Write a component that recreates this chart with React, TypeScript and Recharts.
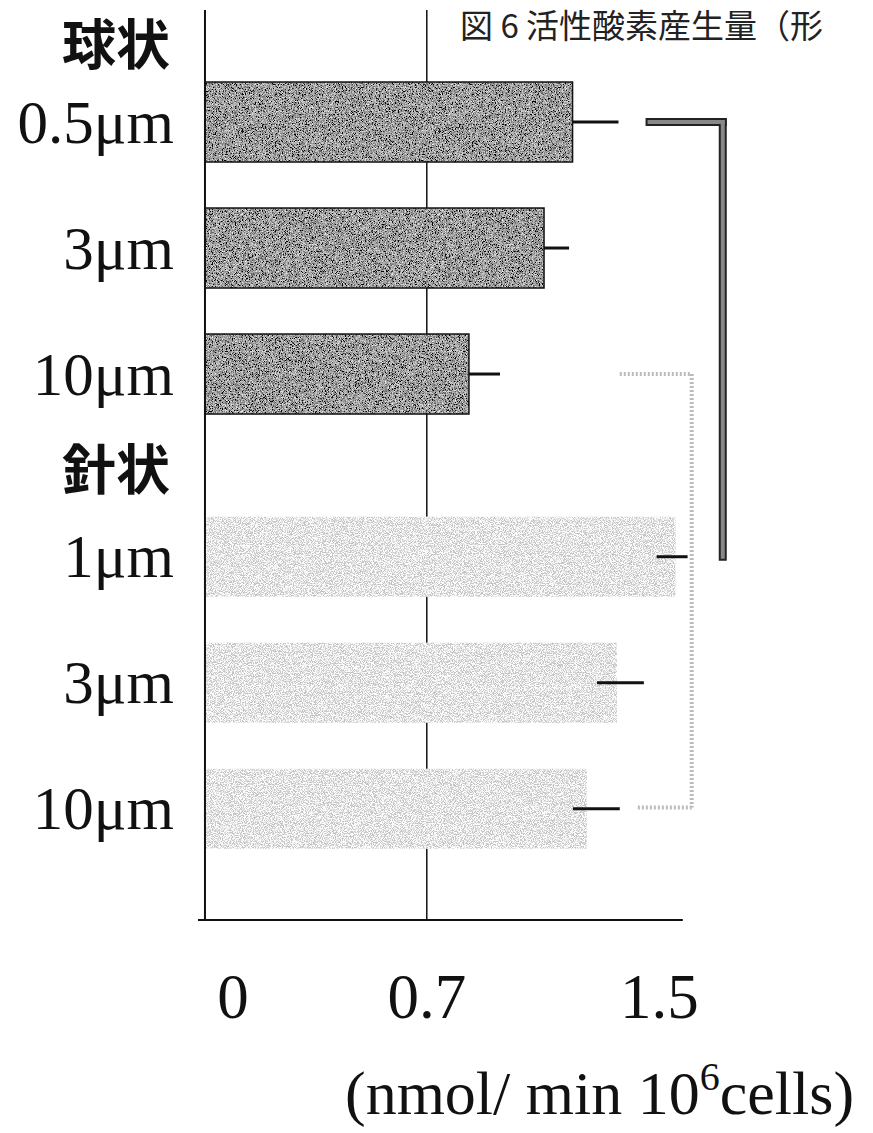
import React from "react";
import {
  BarChart,
  Bar,
  XAxis,
  YAxis,
  ErrorBar,
  ReferenceLine,
  CartesianGrid,
} from "recharts";

// bar rows (sphere group, then needle group)
const barLabels = ["0.5μm", "3μm", "10μm", "1μm", "3μm", "10μm"];
const barShapes = ["sphere", "sphere", "sphere", "needle", "needle", "needle"];
const barRows = [0, 1, 2, 3.45, 4.45, 5.45];
const meanValues = [1.16, 1.07, 0.833, 1.485, 1.3, 1.205];
// lower whiskers of the dark bars are hidden inside the bars
const errLow = [0, 0, 0, 0.06, 0.063, 0.044];
const errHigh = [0.145, 0.079, 0.098, 0.038, 0.085, 0.104];

// group headings on the category axis
const groupLabels = ["球状", "針状"];
const groupRows = [-0.61, 2.77];

const xTicks = [0, 0.7, 1.5];
const refValue = 0.7;
const xDomain = [-0.022, 1.66];
const yDomain = [-0.889, 6.333];

const SERIF = "'Liberation Serif', 'Times New Roman', serif";
const CJK = "'Noto Sans CJK JP', 'Noto Sans CJK SC', sans-serif";

const data = barLabels.map((label, i) => ({
  label,
  shape: barShapes[i],
  row: barRows[i],
  value: meanValues[i],
  err: [errLow[i], errHigh[i]],
}));

const rowTicks = [...groupRows, ...barRows].sort((a, b) => a - b);

function rowLabel(v: number) {
  const g = groupRows.indexOf(v);
  if (g >= 0) return { text: groupLabels[g], heading: true };
  const b = barRows.indexOf(v);
  return { text: b >= 0 ? barLabels[b] : "", heading: false };
}

function RowTick(props: any) {
  const { x, y, payload } = props;
  const { text, heading } = rowLabel(payload.value);
  return (
    <text
      x={heading ? x - 4 : x}
      y={y}
      dy={heading ? "0.36em" : "0.34em"}
      textAnchor="end"
      fontFamily={heading ? CJK : SERIF}
      fontWeight={heading ? 700 : 400}
      fontSize={heading ? 54 : 61}
      fill="#111"
    >
      {text}
    </text>
  );
}

function ValueTick(props: any) {
  const { x, y, payload, index } = props;
  // outer labels sit slightly inward, as in the original
  const nudge = index === 0 ? 28 : index === xTicks.length - 1 ? -21 : 0;
  return (
    <text
      x={x + nudge}
      y={y + 98}
      textAnchor="middle"
      fontFamily={SERIF}
      fontSize={63}
      fill="#111"
    >
      {payload.value}
    </text>
  );
}

function GrainBar(props: any) {
  const { x, y, width, height, payload } = props;
  if (payload.shape === "sphere") {
    return (
      <g>
        <rect x={x} y={y} width={width} height={height} fill="#555" filter="url(#grainDark)" />
        <rect x={x} y={y} width={width} height={height} fill="none" stroke="#111" strokeWidth={1.5} />
      </g>
    );
  }
  return (
    <g>
      <rect x={x} y={y} width={width} height={height} fill="#fff" />
      <rect x={x} y={y} width={width} height={height} fill="#fff" filter="url(#grainLight)" />
    </g>
  );
}

// x position of the 0.7 guide, from the plot offset and the axis domain
function refLineX(props: any) {
  const off = props && props.offset;
  if (!off) return [];
  const t = (refValue - xDomain[0]) / (xDomain[1] - xDomain[0]);
  return [off.left + t * off.width];
}

export default function App() {
  const yBottom = yDomain[1];
  return (
    <div style={{ position: "relative", width: 865, height: 1133, marginTop: -8 }}>
      <svg width={0} height={0} style={{ position: "absolute" }}>
        <defs>
          <filter id="grainDark">
            <feTurbulence type="fractalNoise" baseFrequency="1.3" numOctaves="1" seed="4" result="n" />
            <feColorMatrix
              in="n"
              type="matrix"
              values="2 0 0 0 -0.66  2 0 0 0 -0.66  2 0 0 0 -0.66  0 0 0 0 1"
              result="g"
            />
            <feComposite in="g" in2="SourceGraphic" operator="in" />
          </filter>
          <filter id="grainLight">
            <feTurbulence type="fractalNoise" baseFrequency="1.1" numOctaves="1" seed="7" result="n" />
            <feColorMatrix
              in="n"
              type="matrix"
              values="0 0 0 0 0.55  0 0 0 0 0.55  0 0 0 0 0.55  6 0 0 0 -2.6"
              result="g"
            />
            <feComposite in="g" in2="SourceGraphic" operator="in" />
          </filter>
        </defs>
      </svg>

      <BarChart
        width={865}
        height={1133}
        data={data}
        layout="vertical"
        margin={{ top: 10, right: 142, bottom: 0, left: 0 }}
      >
        {/* the 0.7 line sits behind the bars */}
        <CartesianGrid
          horizontal={false}
          stroke="#111"
          strokeWidth={1.5}
          verticalCoordinatesGenerator={refLineX}
        />
        <XAxis
          type="number"
          domain={xDomain}
          ticks={xTicks}
          axisLine={false}
          tickLine={false}
          tickSize={0}
          tickMargin={0}
          height={213}
          tick={<ValueTick />}
          interval={0}
        />
        <YAxis
          type="number"
          dataKey="row"
          domain={yDomain}
          ticks={rowTicks}
          axisLine={false}
          tickLine={false}
          tickSize={0}
          tickMargin={24}
          width={190}
          tick={<RowTick />}
          interval={0}
          allowDataOverflow
        />

        {/* axes drawn as plain lines */}
        <ReferenceLine x={0} stroke="#111" strokeWidth={2} />
        <ReferenceLine
          segment={[{ x: -0.022, y: yBottom }, { x: 1.508, y: yBottom }]}
          stroke="#111"
          strokeWidth={2}
        />

        <Bar dataKey="value" barSize={80} shape={<GrainBar />} isAnimationActive={false}>
          <ErrorBar dataKey="err" direction="x" width={0} stroke="#111" strokeWidth={3} />
        </Bar>

        {/* sphere 0.5μm vs needle 1μm bracket */}
        <ReferenceLine
          segment={[{ x: 1.403, y: 0 }, { x: 1.634, y: 0 }]}
          stroke="#222"
          strokeWidth={8}
          strokeLinecap="square"
        />
        <ReferenceLine
          segment={[{ x: 1.634, y: 0 }, { x: 1.634, y: 3.45 }]}
          stroke="#222"
          strokeWidth={8}
          strokeLinecap="square"
        />
        <ReferenceLine
          segment={[{ x: 1.403, y: 0 }, { x: 1.634, y: 0 }]}
          stroke="#888"
          strokeWidth={4}
          strokeLinecap="square"
        />
        <ReferenceLine
          segment={[{ x: 1.634, y: 0 }, { x: 1.634, y: 3.45 }]}
          stroke="#888"
          strokeWidth={4}
          strokeLinecap="square"
        />

        {/* sphere 10μm vs needle 10μm bracket */}
        <ReferenceLine
          segment={[{ x: 1.309, y: 2 }, { x: 1.536, y: 2 }]}
          stroke="#bbb"
          strokeWidth={4}
          strokeDasharray="2 2"
        />
        <ReferenceLine
          segment={[{ x: 1.536, y: 2 }, { x: 1.536, y: 5.44 }]}
          stroke="#bbb"
          strokeWidth={4}
          strokeDasharray="2 2"
        />
        <ReferenceLine
          segment={[{ x: 1.366, y: 5.44 }, { x: 1.536, y: 5.44 }]}
          stroke="#bbb"
          strokeWidth={4}
          strokeDasharray="2 2"
        />
      </BarChart>

      <svg
        width={873}
        height={1133}
        style={{ position: "absolute", left: -8, top: 0, pointerEvents: "none", overflow: "hidden" }}
      >
        <text x={460} y={38} fontFamily={CJK} fontSize={33} fill="#222">
          図 6 活性酸素産生量（形
        </text>
        <text x={345} y={1114} fontFamily={SERIF} fontSize={62} fill="#111">
          (nmol/ min 10
          <tspan dy={-24} fontSize={40}>
            6
          </tspan>
          <tspan dy={24} fontSize={62}>
            cells)
          </tspan>
        </text>
      </svg>
    </div>
  );
}
